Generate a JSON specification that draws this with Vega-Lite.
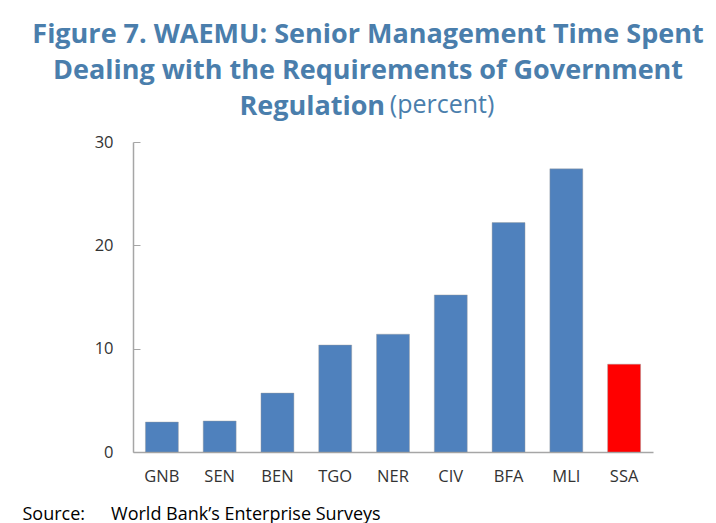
{
  "$schema": "https://vega.github.io/schema/vega-lite/v6.json",
  "width": 520,
  "height": 310,
  "autosize": {"type": "none"},
  "padding": {"left": 133, "top": 142, "right": 63, "bottom": 71},
  "background": "white",
  "title": {
    "text": ["Figure 7. WAEMU: Senior Management Time Spent", "Dealing with the Requirements of Government", "Regulation\u00a0\u2009\u2800\u2800\u2800\u2800\u2800"],
    "subtitle": "\u2800\u2800\u2800\u2800\u2800\u2800\u2800\u2800\u2009(percent)",
    "anchor": "middle",
    "frame": "group",
    "dx": -25,
    "offset": 13,
    "font": "Open Sans",
    "fontSize": 27,
    "fontWeight": "bold",
    "color": "#4A7EAC",
    "lineHeight": 36,
    "subtitleFont": "Open Sans",
    "subtitleFontSize": 25,
    "subtitleFontWeight": "normal",
    "subtitleColor": "#4A7EAC",
    "subtitlePadding": -28
  },
  "data": {
    "values": [
      {"country": "GNB", "value": 2.9, "group": "WAEMU"},
      {"country": "SEN", "value": 3.0, "group": "WAEMU"},
      {"country": "BEN", "value": 5.7, "group": "WAEMU"},
      {"country": "TGO", "value": 10.35, "group": "WAEMU"},
      {"country": "NER", "value": 11.4, "group": "WAEMU"},
      {"country": "CIV", "value": 15.2, "group": "WAEMU"},
      {"country": "BFA", "value": 22.2, "group": "WAEMU"},
      {"country": "MLI", "value": 27.4, "group": "WAEMU"},
      {"country": "SSA", "value": 8.5, "group": "SSA"}
    ]
  },
  "mark": {"type": "bar", "stroke": "#9a9a9a", "strokeWidth": 0.6, "strokeOpacity": 0.7},
  "encoding": {
    "x": {
      "field": "country",
      "type": "nominal",
      "sort": null,
      "scale": {"paddingInner": 0.43, "paddingOuter": 0.215},
      "axis": {
        "title": "Source:\u2800\u2800World Bank\u2019s Enterprise Surveys",
        "titleAnchor": "start",
        "titleAlign": "left",
        "titleX": -111,
        "titleY": 67,
        "titleBaseline": "alphabetic",
        "titleFont": "Open Sans",
        "titleFontSize": 18,
        "titleFontWeight": "normal",
        "titleColor": "#000000",
        "labelAngle": 0,
        "labelFont": "Open Sans",
        "labelFontSize": 16.5,
        "labelColor": "#333333",
        "labelPadding": 16,
        "ticks": false,
        "domainColor": "#A6A6A6",
        "domainWidth": 1.5
      }
    },
    "y": {
      "field": "value",
      "type": "quantitative",
      "scale": {"domain": [0, 30]},
      "axis": {
        "title": null,
        "values": [0, 10, 20, 30],
        "grid": false,
        "labelFont": "Open Sans",
        "labelFontSize": 16.5,
        "labelColor": "#333333",
        "tickSize": -7,
        "tickColor": "#A6A6A6",
        "domainColor": "#A6A6A6",
        "domainWidth": 1.5,
        "labelPadding": 27
      }
    },
    "color": {
      "field": "group",
      "type": "nominal",
      "scale": {"domain": ["WAEMU", "SSA"], "range": ["#4F81BD", "#FF0000"]},
      "legend": null
    }
  },
  "config": {"view": {"stroke": null}}
}
